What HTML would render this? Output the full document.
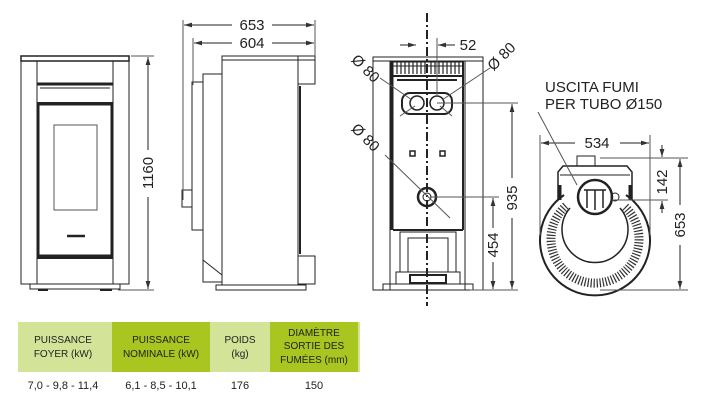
<!DOCTYPE html>
<html><head><meta charset="utf-8"><style>
html,body{margin:0;padding:0;background:#fff;width:705px;height:407px;overflow:hidden}
svg{display:block}
text{font-family:"Liberation Sans",Arial,sans-serif;fill:#222}
</style></head><body>
<svg width="705" height="407" viewBox="0 0 705 407" xmlns="http://www.w3.org/2000/svg">
<defs>
<marker id="a" viewBox="0 0 10 6" refX="10" refY="3" markerWidth="8" markerHeight="5" orient="auto-start-reverse"><path d="M0,0L10,3L0,6z" fill="#333"/></marker>
</defs>
<g fill="none" stroke="#222" stroke-width="1">
<!-- FRONT VIEW -->
<rect x="21" y="56" width="108" height="228"/>
<rect x="21" y="56" width="108" height="5" stroke-width="1.5"/>
<line x1="37" y1="61" x2="37" y2="284"/><line x1="113" y1="61" x2="113" y2="284"/>
<line x1="37" y1="84" x2="113" y2="84" stroke-width="3"/>
<line x1="40" y1="88" x2="110" y2="88"/>
<line x1="37" y1="103" x2="113" y2="103" stroke-width="2"/>
<rect x="38" y="104" width="74" height="152" stroke-width="3"/>
<rect x="54" y="125" width="43" height="85" stroke="#555"/>
<line x1="67" y1="236" x2="85" y2="236" stroke-width="2.5"/>
<line x1="37" y1="258" x2="113" y2="258" stroke-width="2"/>
<rect x="30" y="284" width="90" height="5"/>
<line x1="38" y1="290" x2="48" y2="290" stroke-width="2"/><line x1="100" y1="290" x2="112" y2="290" stroke-width="2"/>
<line x1="131" y1="56" x2="154" y2="56" stroke="#555"/><line x1="118" y1="290" x2="154" y2="290" stroke="#555"/>
<line x1="148" y1="57" x2="148" y2="150" marker-start="url(#a)"/>
<line x1="148" y1="197" x2="148" y2="289" marker-end="url(#a)"/>
<!-- SIDE VIEW -->
<rect x="222" y="56" width="76" height="229"/>
<rect x="222" y="56" width="93" height="4"/>
<rect x="298" y="60" width="17" height="24"/>
<rect x="298" y="256" width="17" height="28"/>
<line x1="300" y1="86" x2="300" y2="254" stroke-width="2"/>
<rect x="203" y="74" width="19" height="208"/>
<rect x="192" y="82" width="11" height="148"/>
<rect x="182" y="190" width="10" height="17"/>
<line x1="203" y1="260" x2="222" y2="275"/>
<rect x="216" y="285" width="90" height="5"/>
<line x1="183" y1="20" x2="183" y2="200" stroke="#555"/>
<line x1="193" y1="38" x2="193" y2="85" stroke="#555"/>
<line x1="315" y1="20" x2="315" y2="56" stroke="#555"/>
<line x1="184" y1="25" x2="232" y2="25" marker-start="url(#a)"/><line x1="272" y1="25" x2="314" y2="25" marker-end="url(#a)"/>
<line x1="194" y1="43" x2="232" y2="43" marker-start="url(#a)"/><line x1="272" y1="43" x2="314" y2="43" marker-end="url(#a)"/>
<!-- BACK VIEW -->
<rect x="373" y="57" width="110" height="233"/>
<rect x="373" y="57" width="110" height="4"/>
<line x1="390" y1="61" x2="390" y2="290"/><line x1="465" y1="61" x2="465" y2="290"/>
<line x1="392" y1="61" x2="392" y2="230" stroke-width="3"/><line x1="463" y1="61" x2="463" y2="230" stroke-width="2"/>
<path d="M393,62 h70 M393,66 h70" />
<path d="M397,62v12M401,62v12M405,62v12M409,62v12M413,62v12M417,62v12M421,62v12M425,62v12M431,62v12M435,62v12M439,62v12M443,62v12M447,62v12M451,62v12M455,62v12M459,62v12" stroke-width="1.2"/>
<path d="M393,76h70M397,80h60" stroke-width="2"/>
<rect x="402" y="93" width="50" height="21" rx="8" stroke-width="2"/>
<circle cx="417" cy="103" r="7" stroke-width="1.5"/><circle cx="437" cy="103" r="7" stroke-width="1.5"/>
<rect x="410" y="151" width="5" height="5" stroke-width="1.5"/><rect x="440" y="151" width="5" height="5" stroke-width="1.5"/>
<circle cx="427" cy="197" r="9" stroke-width="2.5"/><circle cx="427" cy="197" r="4"/>
<line x1="393" y1="230" x2="463" y2="230" stroke-width="2"/>
<rect x="400" y="232" width="56" height="40"/>
<rect x="408" y="238" width="40" height="34"/>
<rect x="396" y="272" width="64" height="12"/>
<rect x="410" y="275" width="36" height="8" stroke-width="2"/>
<rect x="383" y="284" width="90" height="6"/>
<line x1="427" y1="13" x2="427" y2="306" stroke-width="2" stroke-dasharray="9,3,2,3"/>
<line x1="437" y1="103" x2="518" y2="103" stroke="#555"/>
<line x1="430" y1="197" x2="499" y2="197" stroke="#555"/>
<line x1="470" y1="290" x2="518" y2="290" stroke="#555"/>
<line x1="512" y1="104" x2="512" y2="178" marker-start="url(#a)"/><line x1="512" y1="218" x2="512" y2="289" marker-end="url(#a)"/>
<line x1="493" y1="198" x2="493" y2="228" marker-start="url(#a)"/><line x1="493" y1="262" x2="493" y2="289" marker-end="url(#a)"/>
<line x1="437" y1="38" x2="437" y2="95" stroke="#555"/>
<line x1="400" y1="45" x2="416" y2="45" marker-end="url(#a)"/><line x1="455" y1="45" x2="438" y2="45" marker-end="url(#a)"/>
<line x1="380" y1="78" x2="412" y2="100" stroke="#555"/><line x1="490" y1="68" x2="442" y2="100" stroke="#555"/>
<line x1="415" y1="106" x2="400" y2="116" stroke="#555"/><line x1="440" y1="106" x2="452" y2="116" stroke="#555"/>
<line x1="385" y1="155" x2="450" y2="218" stroke="#555"/>
<!-- TOP VIEW -->
<rect x="577" y="156" width="18" height="10"/>
<path d="M558,200 V172 L563,166 H627 L632,172 V200" stroke-width="1.5"/>
<line x1="560" y1="175" x2="630" y2="175"/>
<path d="M564,195 A55,55 0 1 0 626,195" stroke-width="2"/>
<path d="M570,208 A33,33 0 1 0 620,208" stroke-width="1.5"/>
<path d="M566,206 A44,44 0 1 0 624,206" stroke-width="9" stroke-dasharray="1.2,1.8" stroke="#333"/>
<circle cx="595" cy="197" r="17" stroke-width="2.5"/>
<path d="M584,190h22M587,190v18M595,190v20M603,190v18" stroke-width="1.5"/>
<circle cx="615" cy="197" r="4"/>
<line x1="560" y1="185" x2="560" y2="200" stroke-width="3"/><line x1="630" y1="185" x2="630" y2="200" stroke-width="3"/>
<line x1="540" y1="135" x2="540" y2="235" stroke="#555"/>
<line x1="650" y1="135" x2="650" y2="235" stroke="#555"/>
<line x1="541" y1="143" x2="575" y2="143" marker-start="url(#a)"/><line x1="620" y1="143" x2="649" y2="143" marker-end="url(#a)"/>
<line x1="600" y1="158" x2="688" y2="158" stroke="#555"/>
<line x1="612" y1="200" x2="668" y2="200" stroke="#555"/>
<line x1="600" y1="290" x2="688" y2="290" stroke="#555"/>
<line x1="662" y1="145" x2="662" y2="157" marker-end="url(#a)"/>
<line x1="662" y1="213" x2="662" y2="201" marker-end="url(#a)"/>
<line x1="680" y1="159" x2="680" y2="205" marker-start="url(#a)"/><line x1="680" y1="245" x2="680" y2="289" marker-end="url(#a)"/>
<line x1="538" y1="112" x2="577" y2="185" stroke="#555"/>
</g>
<!-- labels -->
<g font-size="15">
<text x="148" y="173" text-anchor="middle" transform="rotate(-90 148 173)" dy="5">1160</text>
<text x="252" y="30" text-anchor="middle">653</text>
<text x="252" y="48" text-anchor="middle">604</text>
<text x="468" y="50" text-anchor="middle">52</text>
<text x="512" y="198" text-anchor="middle" transform="rotate(-90 512 198)" dy="5">935</text>
<text x="493" y="245" text-anchor="middle" transform="rotate(-90 493 245)" dy="5">454</text>
<text x="597" y="148" text-anchor="middle">534</text>
<text x="662" y="182" text-anchor="middle" transform="rotate(-90 662 182)" dy="5">142</text>
<text x="680" y="225" text-anchor="middle" transform="rotate(-90 680 225)" dy="5">653</text>
<text x="362" y="72" text-anchor="middle" transform="rotate(45 362 72)">Ø 80</text>
<text x="362" y="141" text-anchor="middle" transform="rotate(45 362 141)">Ø 80</text>
<text x="505" y="60" text-anchor="middle" transform="rotate(-45 505 60)">Ø 80</text>
<text x="545" y="92">USCITA FUMI</text>
<text x="545" y="109">PER TUBO Ø150</text>
</g>
<!-- table -->
<rect x="18" y="322" width="94" height="50" fill="#d3e398"/>
<rect x="112" y="322" width="98" height="50" fill="#a9c51f"/>
<rect x="210" y="322" width="60" height="50" fill="#d3e398"/>
<rect x="270" y="322" width="88" height="50" fill="#a9c51f"/>
<rect x="358" y="322" width="2" height="50" fill="#d3e398"/>
<g font-size="10" text-anchor="middle" fill="#333">
<text x="63" y="343">PUISSANCE</text><text x="63" y="357">FOYER (kW)</text>
<text x="161" y="343">PUISSANCE</text><text x="161" y="357">NOMINALE (kW)</text>
<text x="240" y="343">POIDS</text><text x="240" y="357">(kg)</text>
<text x="314" y="336">DIAMÈTRE</text><text x="314" y="349">SORTIE DES</text><text x="314" y="363">FUMÉES (mm)</text>
</g>
<g font-size="11" text-anchor="middle" fill="#333">
<text x="63" y="389">7,0 - 9,8 - 11,4</text>
<text x="161" y="389">6,1 - 8,5 - 10,1</text>
<text x="240" y="389">176</text>
<text x="314" y="389">150</text>
</g>
</svg>
</body></html>
